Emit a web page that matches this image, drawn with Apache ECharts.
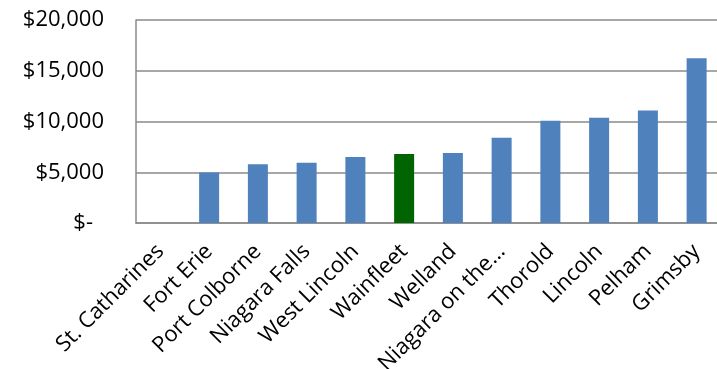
<!DOCTYPE html>
<html>
<head>
<meta charset="utf-8">
<script src="https://cdn.jsdelivr.net/npm/echarts@6/dist/echarts.min.js"></script>
<style>html,body{margin:0;padding:0;background:#fff;}#c{width:717px;height:369px;}</style>
</head>
<body>
<div id="c"></div>
<script>
const categories = ["St. Catharines","Fort Erie","Port Colborne","Niagara Falls","West Lincoln","Wainfleet","Welland","Niagara on the\u2026","Thorold","Lincoln","Pelham","Grimsby"];
const values = [0, 4970, 5780, 5940, 6500, 6790, 6890, 8400, 10070, 10360, 11080, 16240];
const highlight = "Wainfleet";
const yTicks = [0, 5000, 10000, 15000, 20000];

const chart = echarts.init(document.getElementById('c'), null, {renderer:'canvas'});
const font = '"Open Sans"';
chart.setOption({
  animation: false,
  grid: {left: 136, right: -4, top: 20, bottom: 146, containLabel: false, outerBoundsMode: 'none'},
  xAxis: {
    type: 'category',
    data: categories,
    axisLine: {lineStyle: {color: '#8a8a8a', width: 1.5}},
    axisTick: {show: false},
    axisLabel: {rotate: 45, interval: 0, margin: 25, color: '#000', fontFamily: font, fontSize: 22, hideOverlap: false}
  },
  yAxis: {
    type: 'value',
    min: yTicks[0], max: yTicks[yTicks.length-1], interval: 5000,
    axisLine: {show: true, lineStyle: {color: '#8a8a8a', width: 1.5}},
    axisTick: {show: false},
    splitLine: {lineStyle: {color: '#8a8a8a', width: 1.5}},
    axisLabel: {
      margin: 32, color: '#000', fontFamily: font, fontSize: 22,
      formatter: v => v === 0 ? '{z|$-}' : '$' + v.toLocaleString('en-US'),
      rich: {z: {padding: [0, 11, 0, 0], fontFamily: font, fontSize: 22, color: '#000'}}
    }
  },
  series: [{
    type: 'bar',
    barWidth: 20,
    data: values.map((v, i) => ({value: v, itemStyle: {color: categories[i] === highlight ? '#006400' : '#4F81BD'}}))
  }]
});
</script>
</body>
</html>
